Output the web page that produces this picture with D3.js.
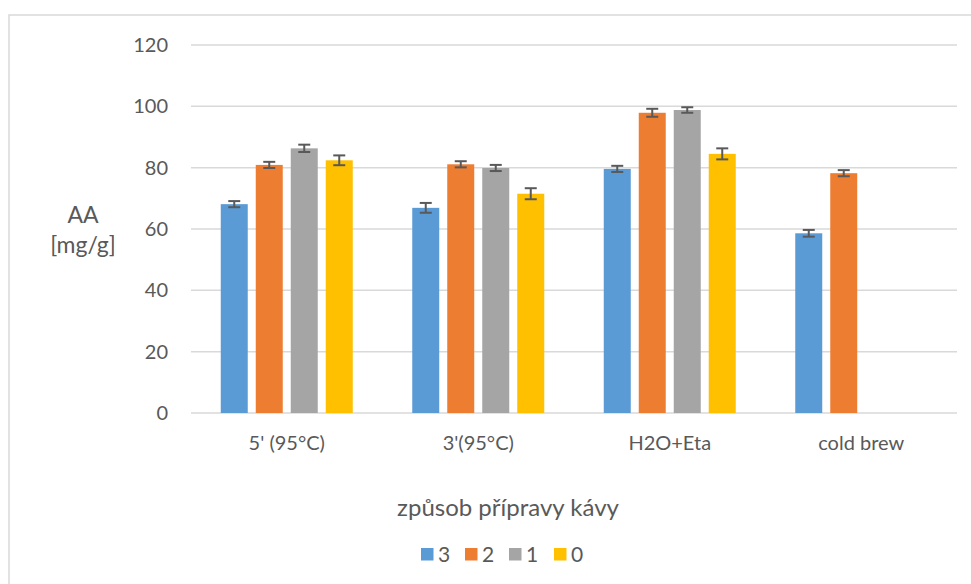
<!DOCTYPE html>
<html><head><meta charset="utf-8">
<script src="https://cdn.jsdelivr.net/npm/d3@7"></script>
<style>html,body{margin:0;padding:0;background:#fff;}svg{display:block;}</style>
</head><body>
<script>
const categories = ["5' (95°C)", "3'(95°C)", "H2O+Eta", "cold brew"];
const seriesNames = ["3", "2", "1", "0"];
const values3 = [68.1, 66.9, 79.6, 58.6];
const values2 = [80.9, 81.1, 97.9, 78.2];
const values1 = [86.3, 79.9, 98.8, null];
const values0 = [82.4, 71.5, 84.5, null];
const errors3 = [1.0, 1.6, 1.0, 1.1];
const errors2 = [1.0, 1.0, 1.3, 1.0];
const errors1 = [1.2, 1.0, 0.9, null];
const errors0 = [1.6, 1.8, 1.8, null];
const yTicks = [0, 20, 40, 60, 80, 100, 120];
const colors = ["#5B9BD5", "#ED7D31", "#A5A5A5", "#FFC000"];

const seriesVals = [values3, values2, values1, values0];
const seriesErr = [errors3, errors2, errors1, errors0];

const W = 971, H = 584;
const FONT = "Lato, 'Open Sans', sans-serif";
const svg = d3.select("body").append("svg").attr("width", W).attr("height", H);

// chart border
svg.append("rect").attr("x", 9).attr("y", 15).attr("width", W).attr("height", H)
  .attr("fill", "#fff").attr("stroke", "#d9d9d9").attr("stroke-width", 1.5);

const x0 = d3.scaleBand().domain(categories).range([191, 957]);
const groupW = 132;
const x1 = d3.scaleBand().domain(seriesNames).range([0, groupW]).paddingInner(8 / 35);
const y = d3.scaleLinear().domain([0, 120]).range([413, 45]);

// gridlines
svg.append("g").selectAll("line").data(yTicks).join("line")
  .attr("x1", 191).attr("x2", 957)
  .attr("y1", d => y(d)).attr("y2", d => y(d))
  .attr("stroke", "#d9d9d9").attr("stroke-width", 1.5);

// y tick labels
svg.append("g").selectAll("text").data(yTicks).join("text")
  .attr("x", 168).attr("y", d => y(d)).attr("dy", "0.35em")
  .attr("text-anchor", "end").attr("fill", "#595959")
  .style("font-family", FONT).style("font-size", "20px")
  .text(d => d);

// bars
const data = [];
categories.forEach((c, ci) => {
  seriesNames.forEach((s, si) => {
    const v = seriesVals[si][ci];
    if (v != null) data.push({c, s, si, v, e: seriesErr[si][ci]});
  });
});
const gx = c => x0(c) + (x0.bandwidth() - groupW) / 2;

svg.append("g").selectAll("rect").data(data).join("rect")
  .attr("x", d => gx(d.c) + x1(d.s))
  .attr("y", d => y(d.v))
  .attr("width", x1.bandwidth())
  .attr("height", d => y(0) - y(d.v))
  .attr("fill", d => colors[d.si]);

// error bars
const eb = svg.append("g").attr("stroke", "#595959").attr("stroke-width", 2);
data.forEach(d => {
  const cx = gx(d.c) + x1(d.s) + x1.bandwidth() / 2;
  eb.append("line").attr("x1", cx).attr("x2", cx).attr("y1", y(d.v + d.e)).attr("y2", y(d.v - d.e));
  eb.append("line").attr("x1", cx - 6).attr("x2", cx + 6).attr("y1", y(d.v + d.e)).attr("y2", y(d.v + d.e));
  eb.append("line").attr("x1", cx - 6).attr("x2", cx + 6).attr("y1", y(d.v - d.e)).attr("y2", y(d.v - d.e));
});

// category labels
svg.append("g").selectAll("text").data(categories).join("text")
  .attr("x", d => x0(d) + x0.bandwidth() / 2).attr("y", 450)
  .attr("text-anchor", "middle").attr("fill", "#595959")
  .style("font-family", FONT).style("font-size", "20px")
  .text(d => d);

// y axis title
const yt = svg.append("text").attr("text-anchor", "middle").attr("fill", "#595959")
  .style("font-family", FONT).style("font-size", "23px");
yt.append("tspan").attr("x", 83).attr("y", 223).text("AA");
yt.append("tspan").attr("x", 83).attr("y", 253).text("[mg/g]");

// x axis title
svg.append("text").attr("x", 508).attr("y", 516).attr("text-anchor", "middle")
  .attr("fill", "#595959").style("font-family", FONT).style("font-size", "24px")
  .text("způsob přípravy kávy");

// legend
const legX = [421, 465, 509, 554];
const lg = svg.append("g");
seriesNames.forEach((s, i) => {
  lg.append("rect").attr("x", legX[i]).attr("y", 548).attr("width", 12.5).attr("height", 12.5).attr("fill", colors[i]);
  lg.append("text").attr("x", legX[i] + 17).attr("y", 561.5).attr("fill", "#595959")
    .style("font-family", FONT).style("font-size", "21px").text(s);
});
</script>
</body></html>
